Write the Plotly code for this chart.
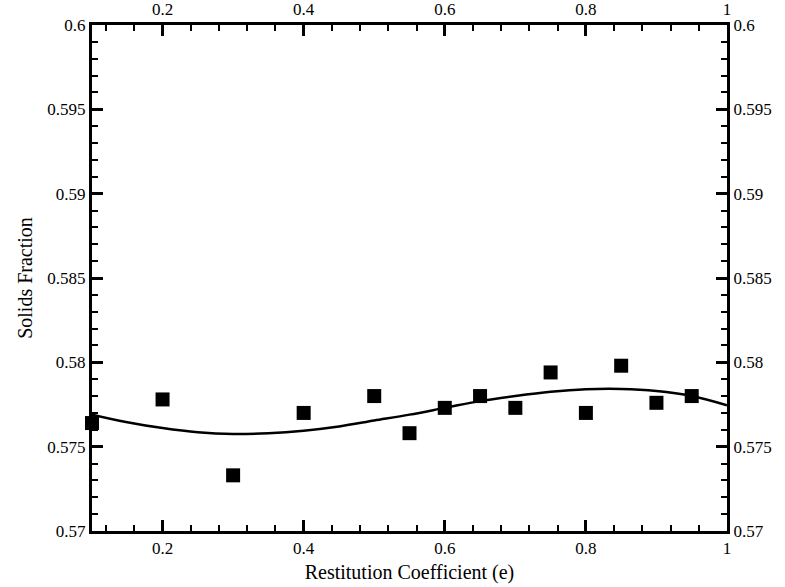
import plotly.graph_objects as go

# Data
e_pts = [0.1, 0.2, 0.3, 0.4, 0.5, 0.55, 0.6, 0.65, 0.7, 0.75, 0.8, 0.85, 0.9, 0.95]
sf_pts = [0.5764, 0.5778, 0.5733, 0.5770, 0.5780, 0.5758, 0.5773, 0.5780,
          0.5773, 0.5794, 0.5770, 0.5798, 0.5776, 0.5780]

e_fit = [0.1, 0.15, 0.2, 0.25, 0.3, 0.35, 0.4, 0.45, 0.5, 0.55, 0.6, 0.65,
         0.7, 0.75, 0.8, 0.85, 0.9, 0.95, 1.0]
sf_fit = [0.5769, 0.57645, 0.5761, 0.57585, 0.57575, 0.5758, 0.57595, 0.5762,
          0.57655, 0.5769, 0.5773, 0.5777, 0.5780, 0.57825, 0.5784, 0.57842,
          0.5783, 0.5780, 0.57745]

x_ticks = [0.2, 0.4, 0.6, 0.8, 1.0]
x_ticktext = ["0.2", "0.4", "0.6", "0.8", "1"]
y_ticks = [0.57, 0.575, 0.58, 0.585, 0.59, 0.595, 0.6]
y_ticktext = ["0.57", "0.575", "0.58", "0.585", "0.59", "0.595", "0.6"]

FONT = "Liberation Serif"

fig = go.Figure()
fig.add_trace(go.Scatter(x=e_fit, y=sf_fit, mode="lines", line=dict(color="black", width=2.5,
                         shape="spline", smoothing=1.0), showlegend=False, hoverinfo="skip"))
fig.add_trace(go.Scatter(x=e_pts, y=sf_pts, mode="markers", cliponaxis=False,
                         marker=dict(symbol="square", size=14, color="black"), showlegend=False))
# invisible trace for mirrored axes
fig.add_trace(go.Scatter(x=[0.5], y=[0.585], xaxis="x2", yaxis="y2", mode="markers",
                         marker=dict(opacity=0), showlegend=False, hoverinfo="skip"))

common_x = dict(range=[0.1, 1.0], tickmode="array", tickvals=x_ticks, ticktext=x_ticktext,
                ticks="inside", ticklen=11, tickwidth=2.5, tickcolor="black", automargin=False,
                showline=True, linewidth=3, linecolor="black", showgrid=False, zeroline=False,
                minor=dict(tickmode="linear", tick0=0.0, dtick=0.04, ticks="inside", ticklen=6,
                           tickwidth=1.5, tickcolor="black", showgrid=False),
                tickfont=dict(family=FONT, size=17, color="black"))
common_y = dict(range=[0.57, 0.6], tickmode="array", tickvals=y_ticks, ticktext=y_ticktext,
                ticks="inside", ticklen=11, tickwidth=2.5, tickcolor="black", automargin=False,
                showline=True, linewidth=3, linecolor="black", showgrid=False, zeroline=False,
                minor=dict(tickmode="linear", tick0=0.57, dtick=0.001, ticks="inside", ticklen=6,
                           tickwidth=1.5, tickcolor="black", showgrid=False),
                tickfont=dict(family=FONT, size=17, color="black"))

fig.update_layout(
    width=785, height=587,
    margin=dict(l=92, r=58, t=25, b=56, autoexpand=False),
    paper_bgcolor="white", plot_bgcolor="white",
    xaxis=dict(**common_x, title=dict(text="Restitution Coefficient (e)",
                                      font=dict(family=FONT, size=20, color="black"), standoff=8)),
    yaxis=dict(**common_y, title=dict(text="Solids Fraction",
                                      font=dict(family=FONT, size=20, color="black"), standoff=10)),
    xaxis2=dict(**common_x, overlaying="x", side="top", anchor="y"),
    yaxis2=dict(**common_y, overlaying="y", side="right", anchor="x"),
)

fig.write_html("out.html")
